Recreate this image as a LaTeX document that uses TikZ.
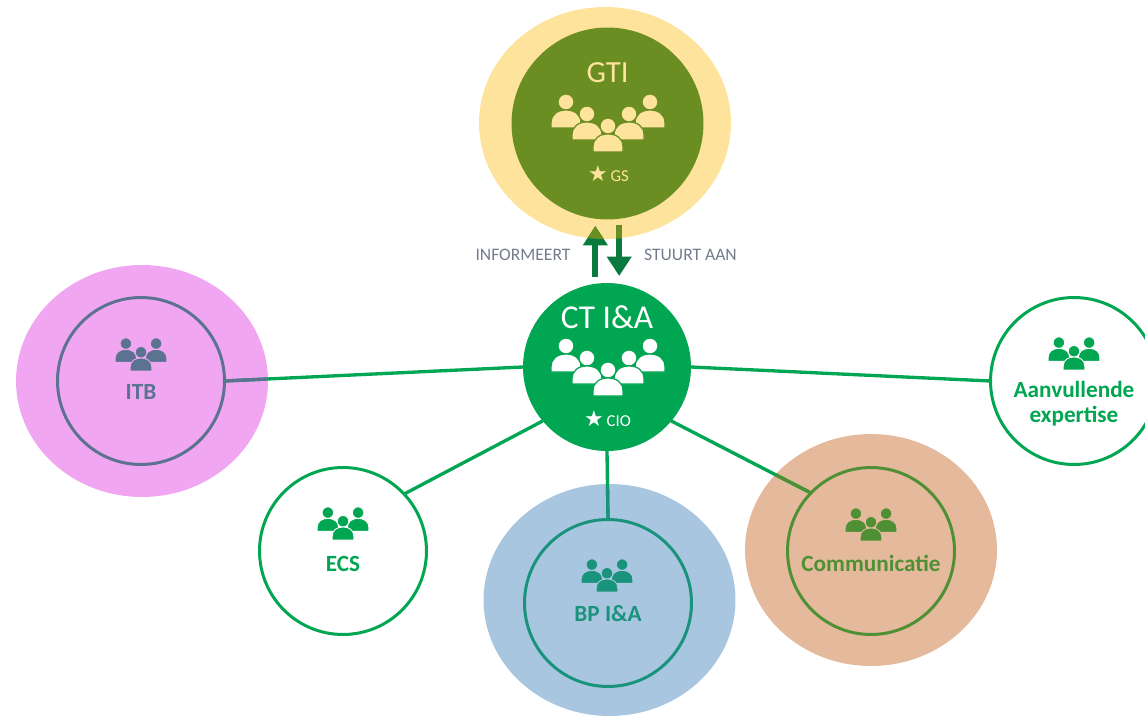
\documentclass[tikz,border=0pt]{standalone}
\usepackage{fontspec}
\setmainfont{Carlito}
\newfontfamily\starfont{DejaVu Sans}
\usetikzlibrary{arrows.meta,calc,positioning,shapes.geometric}

\definecolor{haloyellow}{HTML}{FDE39B}
\definecolor{halopink}{HTML}{F1A6F2}
\definecolor{haloblue}{HTML}{A9C6E1}
\definecolor{halobrown}{HTML}{E5B99C}
\definecolor{gtigreen}{HTML}{6B8E23}
\definecolor{ctgreen}{HTML}{00A651}
\definecolor{flowgreen}{HTML}{0B7A3E}
\definecolor{itbslate}{HTML}{5B7390}
\definecolor{bpteal}{HTML}{1A937C}
\definecolor{comolive}{HTML}{4F9035}
\definecolor{captiongrey}{HTML}{747C8C}

\begin{document}
\begin{tikzpicture}[x=0.02cm, y=-0.02cm]
\tikzset{node distance=2cm,
    halo/.style={ellipse, minimum width=50.4mm, minimum height=46.4mm, inner sep=0pt, outer sep=0pt},
    team/.style={circle, draw, fill=white, line width=1.7pt, minimum size=33.4mm, inner sep=0pt, outer sep=0pt},
    core/.style={circle, inner sep=0pt, outer sep=0pt},
    teamname/.style={font=\fontsize{13.2}{14.2}\selectfont\bfseries, align=center},
    chair/.style={font=\fontsize{9.5}{10}\selectfont},
    caption/.style={font=\fontsize{10}{12}\selectfont, text=captiongrey},
    link/.style={draw=ctgreen, line width=1.9pt},
    flow/.style={draw=flowgreen, line width=3.5pt, -{Triangle[length=11pt, width=13.5pt]}},
    flowtop/.style={draw=gtigreen, line width=3.5pt, -{Triangle[length=11pt, width=13.5pt]}},
    pics/crowd/.style={code={
      \foreach \dx/\dy in {-42/-24, 42/-24, -21/-12, 21/-12, 0/0} {
        \path[pic actions] (\dx,\dy-8) circle[radius=8];
        \path[pic actions] (\dx-15,\dy+18) -- (\dx-15,\dy+13)
          .. controls (\dx-15,\dy+4) and (\dx-8,\dy) .. (\dx,\dy)
          .. controls (\dx+8,\dy) and (\dx+15,\dy+4) .. (\dx+15,\dy+13)
          -- (\dx+15,\dy+18) -- cycle;
      }
    }},
    pics/trio/.style={code={
      \foreach \dx/\dy in {-21/-12, 21/-12, 0/0} {
        \path[pic actions] (\dx,\dy-8) circle[radius=8];
        \path[pic actions] (\dx-15,\dy+18) -- (\dx-15,\dy+13)
          .. controls (\dx-15,\dy+4) and (\dx-8,\dy) .. (\dx,\dy)
          .. controls (\dx+8,\dy) and (\dx+15,\dy+4) .. (\dx+15,\dy+13)
          -- (\dx+15,\dy+18) -- cycle;
      }
    }}
}

  \clip (0,0) rectangle (1145,716);

  % halos
  \node[halo, fill=haloyellow] (gtihalo) at (605,123) {};
  \node[halo, fill=halopink] (itbhalo) at (142,381) {};
  \node[halo, fill=haloblue] (bphalo) at (609.5,600) {};
  \node[halo, fill=halobrown] (comhalo) at (871,550) {};

  % steering groups
  \node[core, fill=gtigreen, minimum size=38.4mm] (gti) at (607.5,123.5) {};
  \node[core, fill=ctgreen, minimum size=33.6mm] (ct) at (607,367) {};

  % teams
  \node[team, draw=itbslate, fill=halopink] (itb) at (141,381) {};
  \node[team, draw=ctgreen] (ecs) at (343,551) {};
  \node[team, draw=bpteal, fill=haloblue] (bp) at (608,603) {};
  \node[team, draw=comolive, fill=halobrown] (com) at (871,551) {};
  \node[team, draw=ctgreen] (extra) at (1074,381) {};

  \draw[link] (ct.180) -- (itb.0);
  \draw[link] (ct.220) -- (ecs.43);
  \draw[link] (ct.south) -- (bp.north);
  \draw[link] (ct.-40) -- (com.136);
  \draw[link] (ct.0) -- (extra.180);
  % part of the line that lies on a halo
  \draw[link, draw=itbslate] (itb.0) -- ($(itb.0)!.141!(ct.180)$);
  \draw[link, draw=bpteal] (bp.north) -- ($(bp.north)!.48!(ct.south)$);
  \draw[link, draw=comolive] (com.136) -- ($(com.136)!.25!(ct.-40)$);

  % arrows
  \draw[flow, shorten <=4pt, shorten >=3.7pt] (ct.98.6) -- (ct.98.6 |- gti.south);
  \draw[flow, shorten <=3.4pt, shorten >=4pt] (gti.-83) -- (gti.-83 |- ct.north);
  \begin{scope}
    \clip (605,123) ellipse[x radius=126, y radius=116];
    \draw[flowtop, shorten <=4pt, shorten >=3.7pt] (ct.98.6) -- (ct.98.6 |- gti.south);
    \draw[flowtop, shorten <=3.4pt, shorten >=4pt] (gti.-83) -- (gti.-83 |- ct.north);
  \end{scope}
  \node[caption] (inform) at (523,255) {INFORMEERT};
  \node[caption] (steer) at (690.5,255) {STUURT AAN};

  % titles
  \node[font=\fontsize{17.5}{20}\selectfont, text=haloyellow, above of=gti, node distance=10.2mm] (gtititle) {GTI};
  \node[font=\fontsize{19}{21}\selectfont, text=white, above of=ct, node distance=10mm] (cttitle) {CT I\&A};
  \pic[fill=haloyellow, draw=gtigreen, line width=0.7pt] at (608,134) {crowd};
  \pic[fill=white, draw=ctgreen, line width=0.7pt] at (608,378) {crowd};
  \node[chair, text=haloyellow] (gtichair) at (608.5,174) {{\starfont\fontsize{12.5}{10}\selectfont ★}\,GS};
  \node[chair, text=white] (ctchair) at (607.5,418.5) {{\starfont\fontsize{12.5}{10}\selectfont ★}\,CIO};

  % team icons and names
  \pic[scale=.72, fill=itbslate, draw=halopink, line width=0.5pt] at (141,358) {trio};
  \node[teamname, text=itbslate, below of=itb, node distance=2.2mm] (itbname) {ITB};
  \pic[scale=.72, fill=ctgreen, draw=white, line width=0.5pt] at (343,527) {trio};
  \node[teamname, text=ctgreen, below of=ecs, node distance=2.6mm] (ecsname) {ECS};
  \pic[scale=.72, fill=bpteal, draw=haloblue, line width=0.5pt] at (607,579) {trio};
  \node[teamname, text=bpteal, below of=bp, node distance=2.2mm] (bpname) {BP I\&A};
  \pic[scale=.72, fill=comolive, draw=halobrown, line width=0.5pt] at (871,528) {trio};
  \node[teamname, text=comolive, below of=com, node distance=2.4mm] (comname) {Communicatie};
  \pic[scale=.72, fill=ctgreen, draw=white, line width=0.5pt] at (1074,357) {trio};
  \node[teamname, text=ctgreen, below of=extra, node distance=4.6mm] (extraname) {Aanvullende\\expertise};
\end{tikzpicture}
\end{document}
